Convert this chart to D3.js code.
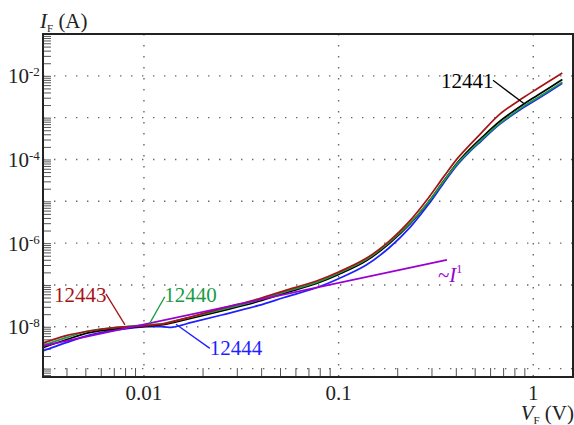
<!DOCTYPE html>
<html>
<head>
<meta charset="utf-8">
<script src="https://cdn.jsdelivr.net/npm/d3@7"></script>
<style>
  body { margin: 0; background: #fff; }
  svg { display: block; }
</style>
</head>
<body>
<svg id="chart"></svg>
<script>
const width = 574;
const height = 425;
const margin = {left: 43, right: 1, top: 34, bottom: 48};
const serif = "'Liberation Serif'";

// forward voltage V_F (V), shared by all samples
const voltage = [0.00302, 0.00398, 0.00525, 0.00708, 0.01, 0.0126, 0.0141, 0.0178, 0.0251, 0.0389,
                 0.0525, 0.0776, 0.1, 0.138, 0.182, 0.234, 0.288, 0.347, 0.407, 0.468,
                 0.537, 0.676, 0.891, 1.047, 1.41];

// forward current I_F (A) per sample
const i12441 = [3.16e-9, 4.90e-9, 7.24e-9, 8.91e-9, 1.02e-8, 1.12e-8, 1.26e-8, 1.62e-8, 2.40e-8, 4.07e-8,
                6.31e-8, 1.10e-7, 1.78e-7, 3.72e-7, 9.77e-7, 2.95e-6, 9.33e-6, 3.09e-5, 8.32e-5, 1.70e-4,
                3.16e-4, 8.32e-4, 2.09e-3, 3.39e-3, 8.13e-3];
const i12443 = [4.07e-9, 6.17e-9, 7.94e-9, 9.55e-9, 1.05e-8, 1.17e-8, 1.33e-8, 1.78e-8, 2.75e-8, 4.68e-8,
                7.24e-8, 1.26e-7, 2.04e-7, 4.27e-7, 1.12e-6, 3.55e-6, 1.17e-5, 3.89e-5, 1.05e-4, 2.14e-4,
                4.17e-4, 1.23e-3, 3.02e-3, 4.90e-3, 1.17e-2];
const i12440 = [3.55e-9, 5.50e-9, 8.04e-9, 9.55e-9, 1.10e-8, 1.20e-8, 1.35e-8, 1.74e-8, 2.57e-8, 4.37e-8,
                6.76e-8, 1.17e-7, 1.91e-7, 3.98e-7, 1.05e-6, 3.09e-6, 9.33e-6, 3.02e-5, 7.94e-5, 1.55e-4,
                2.88e-4, 7.41e-4, 1.86e-3, 2.95e-3, 7.08e-3];
const i12444 = [2.63e-9, 4.17e-9, 6.31e-9, 8.32e-9, 1.00e-8, 1.00e-8, 9.77e-9, 1.29e-8, 1.91e-8, 3.24e-8,
                5.01e-8, 8.71e-8, 1.41e-7, 2.95e-7, 7.76e-7, 2.45e-6, 8.13e-6, 2.75e-5, 7.41e-5, 1.48e-4,
                2.69e-4, 7.08e-4, 1.74e-3, 2.75e-3, 6.61e-3];

// ~I^1 guide line
const guideV = [0.00303, 0.36];
const guideI = [3.5e-9, 3.96e-7];

// axis labels
const xTickValues = [0.01, 0.1, 1];
const xTickText = ["0.01", "0.1", "1"];
const yTickExp = [-2, -4, -6, -8];

const series = [
    {name: "12444", color: "#1f1fff", values: i12444},
    {name: "12441", color: "#000000", values: i12441},
    {name: "12440", color: "#1a9a45", values: i12440},
    {name: "12443", color: "#a51515", values: i12443}
];

// annotation labels in data units: text start, leader start, leader end
const notes = [
    {text: "12443", color: "#a51515", tv: 0.00345, ti: 3.95e-8, v1: 0.00638, i1: 6.14e-8, v2: 0.00799, i2: 1.11e-8},
    {text: "12440", color: "#1a9a45", tv: 0.0127, ti: 3.95e-8, v1: 0.0128, i1: 5.21e-8, v2: 0.0107, i2: 1.21e-8},
    {text: "12444", color: "#1f1fff", tv: 0.0218, ti: 2.14e-9, v1: 0.0146, i1: 1.15e-8, v2: 0.0218, i2: 3.05e-9},
    {text: "12441", color: "#000000", tv: 0.336, ti: 5.16e-3, v1: 0.621, i1: 7.81e-3, v2: 0.892, i2: 2.20e-3}
];

const svg = d3.select('svg#chart').attr('width', width).attr('height', height);

const x = d3.scaleLog().domain([0.00303, 1.6]).range([margin.left, width - margin.right]);
const y = d3.scaleLog().domain([6.3e-10, 0.1]).range([height - margin.bottom, margin.top]);

const gridDecades = [1e-9, 1e-8, 1e-7, 1e-6, 1e-5, 1e-4, 1e-3, 1e-2];

// dotted grid
svg.append('g').selectAll('line')
    .data(gridDecades)
    .enter().append('line')
    .attr('x1', margin.left).attr('x2', width - margin.right)
    .attr('y1', d => y(d)).attr('y2', d => y(d))
    .attr('stroke', '#666').attr('stroke-width', 1.4)
    .attr('stroke-dasharray', '1.4,9.6');

svg.append('g').selectAll('line')
    .data(xTickValues)
    .enter().append('line')
    .attr('x1', d => x(d)).attr('x2', d => x(d))
    .attr('y1', margin.top).attr('y2', height - margin.bottom)
    .attr('stroke', '#666').attr('stroke-width', 1.4)
    .attr('stroke-dasharray', '1.4,9.6');

// inward minor ticks (x decades carry only the dotted grid line)
const xMinor = x.ticks().filter(v => !xTickValues.some(t => Math.abs(v / t - 1) < 1e-6));
const xAxis = svg.append('g')
    .attr('transform', `translate(0,${height - margin.bottom})`)
    .call(d3.axisBottom(x).tickValues(xMinor).tickSize(-9).tickFormat(''));
const yAxis = svg.append('g')
    .attr('transform', `translate(${margin.left},0)`)
    .call(d3.axisLeft(y).ticks(10).tickSize(-8).tickFormat(''));
[xAxis, yAxis].forEach(g => {
    g.select('.domain').remove();
    g.selectAll('.tick line').attr('stroke', '#555').attr('stroke-width', 1);
});

// curves
const line = d3.line()
    .x(d => x(d[0]))
    .y(d => y(d[1]))
    .curve(d3.curveCatmullRom.alpha(0.5));

svg.append('g').selectAll('path')
    .data(series)
    .enter().append('path')
    .attr('d', s => line(voltage.map((v, i) => [v, s.values[i]])))
    .attr('fill', 'none')
    .attr('stroke', s => s.color)
    .attr('stroke-width', 1.7);

svg.append('path')
    .attr('d', line(guideV.map((v, i) => [v, guideI[i]])))
    .attr('fill', 'none')
    .attr('stroke', '#9a00d0')
    .attr('stroke-width', 1.7);

// frame
svg.append('rect')
    .attr('x', margin.left).attr('y', margin.top)
    .attr('width', width - margin.left - margin.right)
    .attr('height', height - margin.top - margin.bottom)
    .attr('fill', 'none').attr('stroke', '#222').attr('stroke-width', 2);

// annotations
notes.forEach(n => {
    svg.append('line')
        .attr('x1', x(n.v1)).attr('y1', y(n.i1))
        .attr('x2', x(n.v2)).attr('y2', y(n.i2))
        .attr('stroke', n.color).attr('stroke-width', 1.3);
    svg.append('text')
        .attr('x', x(n.tv)).attr('y', y(n.ti))
        .style('font-family', serif)
        .attr('font-size', 21).attr('fill', n.color)
        .text(n.text);
});

const guideLabel = svg.append('text')
    .attr('x', x(0.324)).attr('y', y(1.19e-7))
    .style('font-family', serif)
    .attr('font-size', 21).attr('fill', '#9a00d0');
guideLabel.append('tspan').text('~');
guideLabel.append('tspan').attr('font-style', 'italic').text('I');
guideLabel.append('tspan').attr('font-size', 12).attr('dy', -9).text('1');

// tick labels
svg.append('g').selectAll('text')
    .data(xTickValues)
    .enter().append('text')
    .attr('x', d => x(d)).attr('y', height - margin.bottom + 23)
    .attr('text-anchor', 'middle')
    .style('font-family', serif)
    .attr('font-size', 21).attr('fill', '#222')
    .text((d, i) => xTickText[i]);

yTickExp.forEach(e => {
    const t = svg.append('text')
        .attr('x', 8).attr('y', y(Math.pow(10, e)) + 7.5)
        .style('font-family', serif)
        .attr('font-size', 21).attr('fill', '#222');
    t.append('tspan').text('10');
    t.append('tspan').attr('font-size', 13).attr('dy', -7).text(String(e));
});

// axis titles
const yTitle = svg.append('text').attr('x', 40).attr('y', 28)
    .style('font-family', serif).attr('font-size', 21).attr('fill', '#222');
yTitle.append('tspan').attr('font-style', 'italic').text('I');
yTitle.append('tspan').attr('font-size', 11).attr('dy', 4).text('F');
yTitle.append('tspan').attr('dy', -4).text(' (A)');

const xTitle = svg.append('text').attr('x', width).attr('y', 420)
    .attr('text-anchor', 'end')
    .style('font-family', serif).attr('font-size', 21).attr('fill', '#222');
xTitle.append('tspan').attr('font-style', 'italic').text('V');
xTitle.append('tspan').attr('font-size', 11).attr('dy', 4).text('F');
xTitle.append('tspan').attr('dy', -4).text(' (V)');
</script>
</body>
</html>
